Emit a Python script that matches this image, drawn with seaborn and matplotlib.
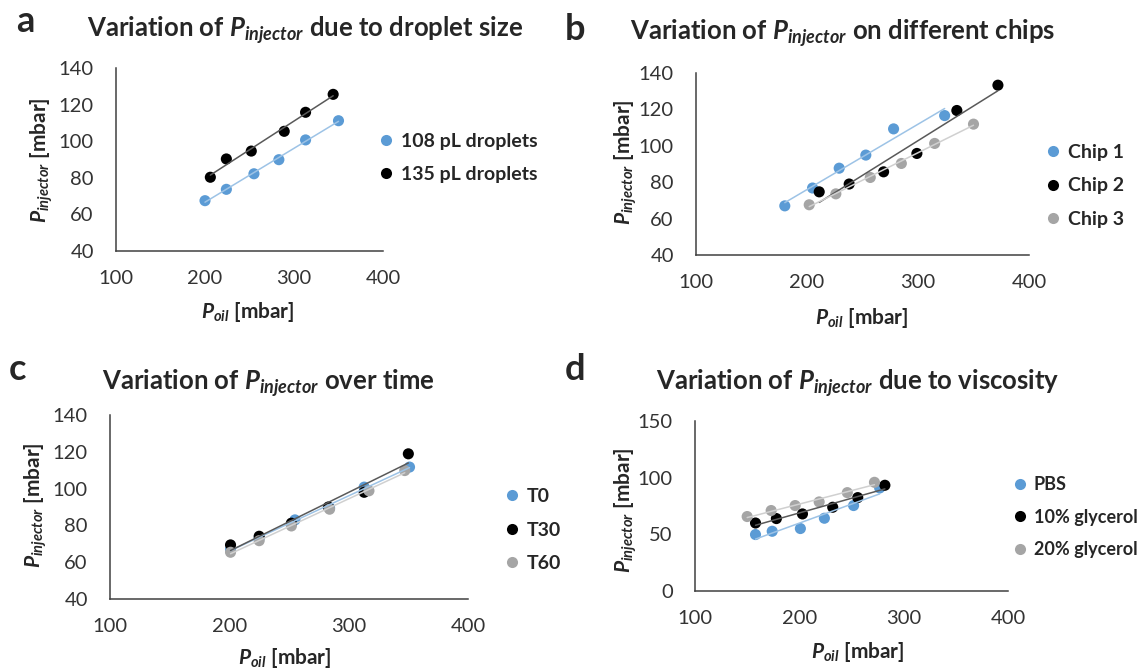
import numpy as np
import pandas as pd
import matplotlib
matplotlib.use("Agg")
import matplotlib.pyplot as plt
import seaborn as sns

# a: droplet size
a_x_108 = [200, 224, 255, 283, 313, 350]
a_y_108 = [67.5, 73.7, 82.2, 89.9, 100.7, 111.2]
a_x_135 = [206, 224, 252, 289, 313, 344]
a_y_135 = [80.3, 90.3, 94.6, 105.4, 115.8, 125.6]

# b: different chips
b_x_chip1 = [180, 205, 229, 253, 278, 324]
b_y_chip1 = [67.0, 76.8, 87.7, 94.9, 109.3, 116.6]
b_x_chip2 = [211, 238, 269, 299, 335, 372]
b_y_chip2 = [74.7, 79.0, 85.7, 95.8, 119.4, 133.3]
b_x_chip3 = [202, 226, 257, 285, 315, 350]
b_y_chip3 = [67.6, 73.6, 82.6, 90.3, 101.3, 111.9]

# c: over time
c_x_t0 = [201, 225, 255, 284, 313, 351]
c_y_t0 = [67.0, 73.0, 83.0, 89.5, 100.8, 111.7]
c_x_t30 = [201, 225, 252, 283, 313, 350]
c_y_t30 = [69.4, 74.1, 81.2, 90.0, 98.0, 118.9]
c_x_t60 = [201, 225, 252, 284, 317, 347]
c_y_t60 = [65.4, 71.7, 79.7, 88.8, 98.8, 109.8]

# d: viscosity
d_x_pbs = [158, 174, 201, 224, 252, 277]
d_y_pbs = [49.8, 52.7, 55.1, 64.2, 75.4, 90.9]
d_x_10 = [158, 178, 203, 232, 256, 282]
d_y_10 = [60.0, 63.9, 68.0, 73.9, 82.4, 93.3]
d_x_20 = [150, 173, 196, 219, 246, 272]
d_y_20 = [65.7, 71.0, 75.4, 78.6, 86.8, 95.9]

BLUE, BLACK, GRAY = "#5B9BD5", "#000000", "#A5A5A5"
LINE_COLS = ["#9DC3E6", "#595959", "#D0D0D0"]

sns.set_style("white")
plt.rcParams["font.family"] = ["Lato", "DejaVu Sans"]
plt.rcParams["mathtext.fontset"] = "custom"
plt.rcParams["mathtext.it"] = "Lato:italic:bold"
plt.rcParams["mathtext.rm"] = "Lato:bold"
plt.rcParams["mathtext.bf"] = "Lato:bold"

W, H = 1145, 669
fig = plt.figure(figsize=(W / 100, H / 100), dpi=100)


def px_axes(l, r, t, b):
    return fig.add_axes([l / W, 1 - b / H, (r - l) / W, (b - t) / H])


def panel(ax, series, names, colors, xlim, ylim, yticks, leg_xy, leg_size=14):
    df = pd.concat([pd.DataFrame({"x": x, "y": y, "series": n})
                    for (x, y), n in zip(series, names)], ignore_index=True)
    sns.scatterplot(data=df, x="x", y="y", hue="series", hue_order=names,
                    palette=colors, s=64, edgecolor="none", ax=ax, zorder=2)
    for n, lc in zip(names, LINE_COLS):
        sns.regplot(data=df[df.series == n], x="x", y="y", scatter=False,
                    ci=None, truncate=True, ax=ax,
                    line_kws=dict(color=lc, lw=1.1, zorder=3))
    ax.set_xlim(*xlim)
    ax.set_ylim(*ylim)
    ax.set_xticks([100, 200, 300, 400])
    ax.set_yticks(yticks)
    for s in ["top", "right"]:
        ax.spines[s].set_visible(False)
    for s in ["left", "bottom"]:
        ax.spines[s].set_color("#404040")
        ax.spines[s].set_linewidth(1.1)
    ax.tick_params(axis="both", direction="in", length=5, width=1.1,
                   color="#404040", labelsize=14.5, labelcolor="#333333")
    ax.tick_params(axis="x", pad=14)
    ax.tick_params(axis="y", pad=16)
    ax.set_xlabel("")
    ax.set_ylabel("")
    sns.move_legend(ax, "center left",
                    bbox_to_anchor=(leg_xy[0] / W, 1 - leg_xy[1] / H),
                    bbox_transform=fig.transFigure, frameon=False, title=None,
                    prop=dict(weight="bold", size=leg_size), labelspacing=0.85,
                    handletextpad=0.3, handlelength=0.9, borderpad=0)


ax_a = px_axes(116, 383, 68, 251)
panel(ax_a, [(a_x_108, a_y_108), (a_x_135, a_y_135)],
      ["108 pL droplets", "135 pL droplets"], [BLUE, BLACK],
      (100, 400), (40, 140), [40, 60, 80, 100, 120, 140], (368, 158))

ax_b = px_axes(696, 1029, 73, 255)
panel(ax_b, [(b_x_chip1, b_y_chip1), (b_x_chip2, b_y_chip2), (b_x_chip3, b_y_chip3)],
      ["Chip 1", "Chip 2", "Chip 3"], [BLUE, BLACK, GRAY],
      (100, 400), (40, 140), [40, 60, 80, 100, 120, 140], (1035, 186))

ax_c = px_axes(110, 468, 415, 599)
panel(ax_c, [(c_x_t0, c_y_t0), (c_x_t30, c_y_t30), (c_x_t60, c_y_t60)],
      ["T0", "T30", "T60"], [BLUE, BLACK, GRAY],
      (100, 400), (40, 140), [40, 60, 80, 100, 120, 140], (494, 530))

ax_d = px_axes(695, 1008, 421, 591)
panel(ax_d, [(d_x_pbs, d_y_pbs), (d_x_10, d_y_10), (d_x_20, d_y_20)],
      ["PBS", "10% glycerol", "20% glycerol"], [BLUE, BLACK, GRAY],
      (100, 400), (0, 150), [0, 50, 100, 150], (1003, 517), leg_size=13)

titles = [
    (305, 30, r"Variation of $P_{injector}$ due to droplet size"),
    (843, 33, r"Variation of $P_{injector}$ on different chips"),
    (268, 383, r"Variation of $P_{injector}$ over time"),
    (858, 383, r"Variation of $P_{injector}$ due to viscosity"),
]
for x, y, t in titles:
    fig.text(x / W, 1 - y / H, t, ha="center", va="center",
             fontsize=18.5, fontweight="bold")

for x, y, t in [(25, 22, "a"), (575, 30, "b"), (18, 370, "c"), (575, 370, "d")]:
    fig.text(x / W, 1 - y / H, t, ha="center", va="center",
             fontsize=26, fontweight="bold")

ylab = r"$P_{injector}$ [mbar]"
xlab = r"$P_{oil}$ [mbar]"
for x, y in [(42, 160), (626, 162), (36, 505), (626, 510)]:
    fig.text(x / W, 1 - y / H, ylab, ha="center", va="center", rotation=90,
             fontsize=15, fontweight="bold")
for x, y in [(248, 312), (862, 318), (285, 658), (858, 652)]:
    fig.text(x / W, 1 - y / H, xlab, ha="center", va="center",
             fontsize=15, fontweight="bold")

fig.savefig("out.png", dpi=100, facecolor="white")
